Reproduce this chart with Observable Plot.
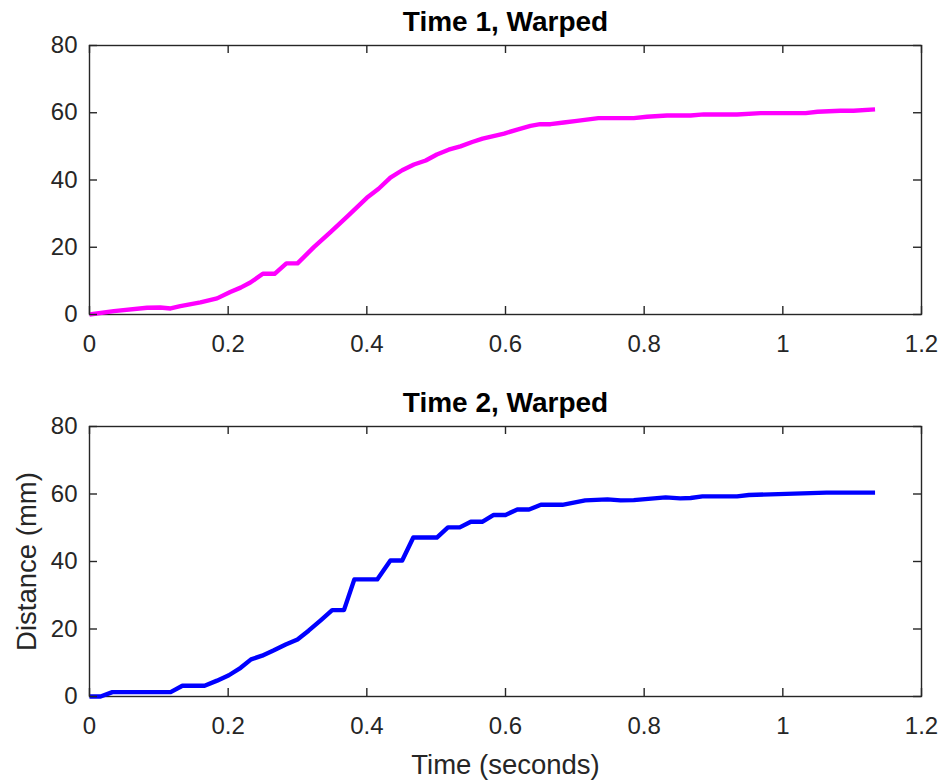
<!DOCTYPE html>
<html>
<head>
<meta charset="utf-8">
<script src="https://cdn.jsdelivr.net/npm/d3@7"></script>
<script src="https://cdn.jsdelivr.net/npm/@observablehq/plot@0.6"></script>
<style>
  html, body { margin: 0; padding: 0; background: #fff; }
  #chart { width: 947px; height: 781px; position: relative; }
  #chart svg { display: block; }
</style>
</head>
<body>
<div id="chart"></div>
<script>
// Time 1 (warped): time in seconds, distance in mm
const time1 = [0, 0.035, 0.083, 0.102, 0.117, 0.131, 0.16, 0.184, 0.203, 0.218, 0.232, 0.25, 0.267, 0.284, 0.300,
  0.324, 0.348, 0.372, 0.40, 0.417, 0.434, 0.451, 0.468, 0.485, 0.501, 0.518, 0.535, 0.552, 0.567, 0.598,
  0.617, 0.636, 0.650, 0.665, 0.684, 0.703, 0.734, 0.785, 0.804, 0.833, 0.867, 0.886, 0.934, 0.968, 1.033,
  1.050, 1.083, 1.102, 1.133];
const dist1 = [0, 1, 2, 2.1, 1.8, 2.5, 3.6, 4.8, 6.7, 8, 9.5, 12.1, 12.1, 15.2, 15.2,
  20.1, 24.6, 29.2, 34.7, 37.4, 40.7, 42.9, 44.6, 45.8, 47.6, 49, 50, 51.3, 52.3, 53.8,
  55, 56.1, 56.6, 56.6, 57.1, 57.6, 58.4, 58.4, 58.8, 59.2, 59.2, 59.5, 59.5, 59.9, 59.9,
  60.3, 60.6, 60.6, 61];

// Time 2 (warped)
const time2 = [0, 0.016, 0.033, 0.117, 0.134, 0.166, 0.184, 0.201, 0.218, 0.233, 0.249, 0.266, 0.283, 0.300,
  0.316, 0.333, 0.350, 0.367, 0.382, 0.415, 0.434, 0.451, 0.467, 0.501, 0.517, 0.534, 0.55, 0.567, 0.583,
  0.600, 0.617, 0.634, 0.651, 0.682, 0.715, 0.747, 0.766, 0.785, 0.831, 0.852, 0.867, 0.884, 0.934, 0.951,
  0.982, 1.063, 1.133];
const dist2 = [0, 0, 1.3, 1.3, 3.2, 3.2, 4.7, 6.3, 8.5, 11, 12.1, 13.7, 15.4, 16.9,
  19.5, 22.5, 25.6, 25.6, 34.7, 34.7, 40.3, 40.3, 47.1, 47.1, 50.1, 50.1, 51.8, 51.8, 53.8,
  53.8, 55.4, 55.4, 56.8, 56.8, 58.1, 58.4, 58.1, 58.2, 59, 58.7, 58.8, 59.3, 59.3, 59.7,
  59.9, 60.4, 60.4];

// Axis ticks and labels
const xTicks = [0, 0.2, 0.4, 0.6, 0.8, 1, 1.2];
const xTickLabels = ["0", "0.2", "0.4", "0.6", "0.8", "1", "1.2"];
const yTicks = [0, 20, 40, 60, 80];
const yTickLabels = ["0", "20", "40", "60", "80"];

const titles = ["Time 1, Warped", "Time 2, Warped"];
const xLabel = "Time (seconds)";
const yLabel = "Distance (mm)";
const colors = ["#ff00ff", "#0000ff"];

const W = 947;
const ink = "#262626";
const tickLen = 8;

function panel({t, d, title, color, height, marginTop, marginBottom, xlab, ylab}) {
  const marginLeft = 89, marginRight = 26;
  const frameH = height - marginTop - marginBottom;
  const frameW = W - marginLeft - marginRight;
  const rows = t.map((v, i) => ({t: v, d: d[i]}));
  const marks = [
    Plot.frame({stroke: ink, strokeWidth: 1.4}),
    Plot.line(rows, {x: "t", y: "d", stroke: color, strokeWidth: 4.4, strokeLinejoin: "round", strokeLinecap: "butt"}),
    // inward ticks on all four sides
    Plot.tickX(xTicks, {x: v => v, stroke: ink, strokeWidth: 1.4, insetTop: frameH - tickLen}),
    Plot.tickX(xTicks, {x: v => v, stroke: ink, strokeWidth: 1.4, insetBottom: frameH - tickLen}),
    Plot.tickY(yTicks, {y: v => v, stroke: ink, strokeWidth: 1.4, insetRight: frameW - tickLen}),
    Plot.tickY(yTicks, {y: v => v, stroke: ink, strokeWidth: 1.4, insetLeft: frameW - tickLen}),
    Plot.axisX(xTicks, {anchor: "bottom", tickSize: 0, tickPadding: 20, label: null,
      tickFormat: v => xTickLabels[xTicks.indexOf(v)], fill: ink}),
    Plot.axisY(yTicks, {anchor: "left", tickSize: 0, tickPadding: 12, label: null,
      tickFormat: v => yTickLabels[yTicks.indexOf(v)], fill: ink}),
    Plot.text([title], {frameAnchor: "top", dy: -15, lineAnchor: "bottom", textAnchor: "middle", fontWeight: "bold",
      fontSize: 28, fill: "#000"})
  ];
  if (xlab) marks.push(Plot.text([xlab], {frameAnchor: "bottom", dy: 77, lineAnchor: "bottom", textAnchor: "middle", fontSize: 27.5, fill: ink}));
  if (ylab) marks.push(Plot.text([ylab], {frameAnchor: "left", dx: -54, rotate: -90, lineAnchor: "bottom", textAnchor: "middle", fontSize: 27.5, fill: ink}));
  return Plot.plot({
    width: W,
    height,
    marginLeft, marginRight, marginTop, marginBottom,
    x: {domain: [0, 1.2], axis: null},
    y: {domain: [0, 80], axis: null},
    style: {fontFamily: "'Liberation Sans', Arial, sans-serif", fontSize: "24px", color: ink, background: "#fff", overflow: "visible"},
    marks
  });
}

const chart = document.getElementById("chart");
chart.append(panel({t: time1, d: dist1, title: titles[0], color: colors[0], height: 390, marginTop: 45, marginBottom: 76}));
chart.append(panel({t: time2, d: dist2, title: titles[1], color: colors[1], height: 391, marginTop: 36, marginBottom: 85, xlab: xLabel, ylab: yLabel}));
</script>
</body>
</html>
